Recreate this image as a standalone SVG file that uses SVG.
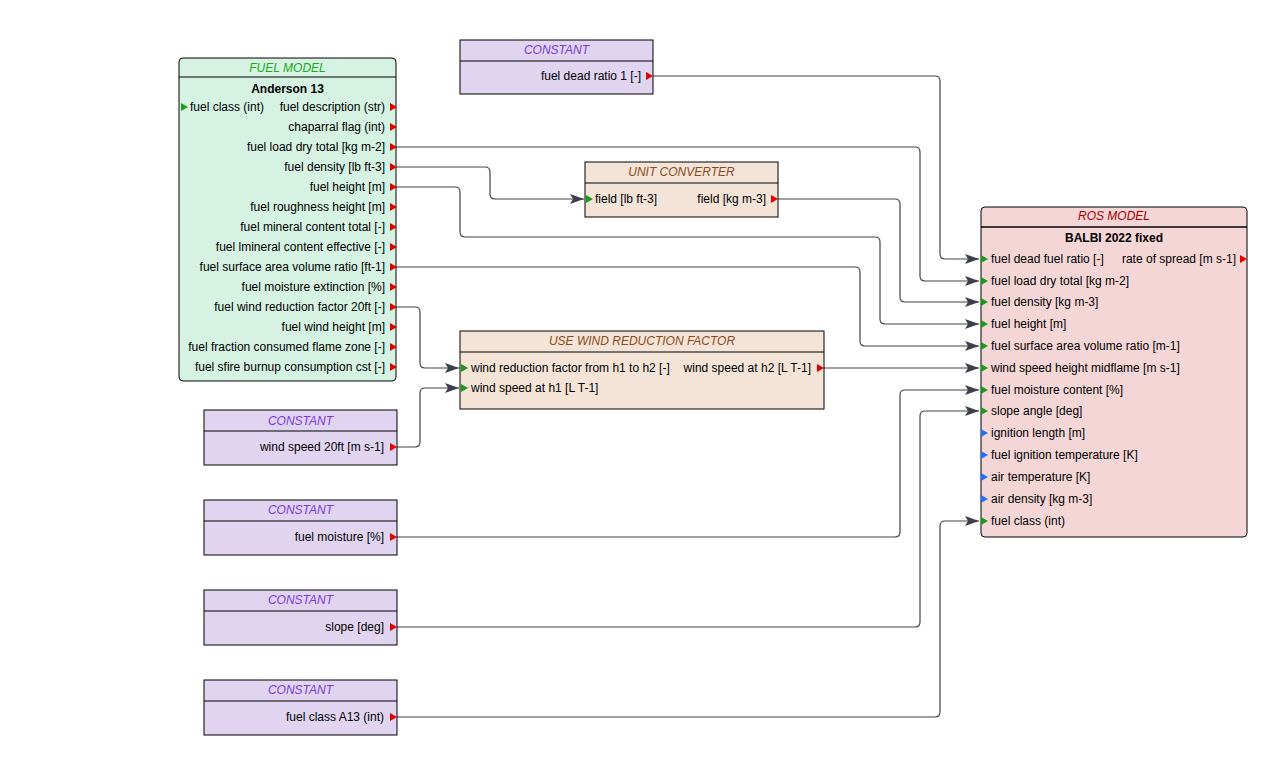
<svg xmlns="http://www.w3.org/2000/svg" width="1288" height="775" viewBox="0 0 1288 775">
<style>
text{font-family:"Liberation Sans",Arial,sans-serif;font-size:12px;fill:#000}
.hd{font-style:italic;text-anchor:middle}
.b{font-weight:bold;text-anchor:middle}
.r{text-anchor:end}
.box{stroke:#000;stroke-width:1}
.cn{fill:#e0d4f0}.fm{fill:#d6f2e2}.uc{fill:#f4e4d8}.ros{fill:#f4d6d6}
.pr{fill:#e00000}.pg{fill:#1a9a1a}.pb{fill:#1e70ff}
#connectors path{fill:none;stroke:#444;stroke-width:1.2;marker-end:url(#ah)}
</style>
<defs>
<marker id="ah" viewBox="0 0 14 10" refX="14" refY="5" markerWidth="14" markerHeight="10" markerUnits="userSpaceOnUse" orient="auto"><path d="M0,0L14,5L0,10L3,5Z" fill="#3a3f4a"/></marker>
<path id="pr" d="M0,-4L7,0L0,4Z" class="pr"/>
<path id="pg" d="M0,-4L7,0L0,4Z" class="pg"/>
<path id="pb" d="M0,-4L7,0L0,4Z" class="pb"/>
</defs>
<rect width="1288" height="775" fill="#fff"/>

<g id="connectors">
<path d="M653,76H935Q940,76 940,81V254Q940,259 945,259H979"/>
<path d="M396,147H915Q920,147 920,152V276Q920,281 925,281H979"/>
<path d="M396,167H485Q490,167 490,172V194Q490,199 495,199H584"/>
<path d="M778,199H895Q900,199 900,204V297Q900,302 905,302H979"/>
<path d="M396,187H455Q460,187 460,192V232Q460,237 465,237H875Q880,237 880,242V319Q880,324 885,324H979"/>
<path d="M396,267H855Q860,267 860,272V341Q860,346 865,346H979"/>
<path d="M396,307H415Q420,307 420,312V363Q420,368 425,368H459"/>
<path d="M396,447H415Q420,447 420,442V393Q420,388 425,388H459"/>
<path d="M824,368H979"/>
<path d="M396,537H895Q900,537 900,532V395Q900,390 905,390H979"/>
<path d="M396,627H915Q920,627 920,622V416Q920,411 925,411H979"/>
<path d="M396,717H935Q940,717 940,712V526Q940,521 945,521H979"/>
</g>

<g id="fuel-model">
<rect x="179" y="58" width="217" height="323" rx="4" class="box fm"/>
<line x1="179" y1="77" x2="396" y2="77" stroke="#000"/>
<text x="287.5" y="72" class="hd" style="fill:#1aaa1a">FUEL MODEL</text>
<text x="287.5" y="93" class="b">Anderson 13</text>
<use href="#pg" x="181" y="107"/>
<text x="190" y="111">fuel class (int)</text>
<text x="385" y="111" class="r">fuel description (str)</text>
<text x="385" y="131" class="r">chaparral flag (int)</text>
<text x="385" y="151" class="r">fuel load dry total [kg m-2]</text>
<text x="385" y="171" class="r">fuel density [lb ft-3]</text>
<text x="385" y="191" class="r">fuel height [m]</text>
<text x="385" y="211" class="r">fuel roughness height [m]</text>
<text x="385" y="231" class="r">fuel mineral content total [-]</text>
<text x="385" y="251" class="r">fuel lmineral content effective [-]</text>
<text x="385" y="271" class="r">fuel surface area volume ratio [ft-1]</text>
<text x="385" y="291" class="r">fuel moisture extinction [%]</text>
<text x="385" y="311" class="r">fuel wind reduction factor 20ft [-]</text>
<text x="385" y="331" class="r">fuel wind height [m]</text>
<text x="385" y="351" class="r">fuel fraction consumed flame zone [-]</text>
<text x="385" y="371" class="r">fuel sfire burnup consumption cst [-]</text>
<use href="#pr" x="390" y="107"/><use href="#pr" x="390" y="127"/><use href="#pr" x="390" y="147"/><use href="#pr" x="390" y="167"/><use href="#pr" x="390" y="187"/><use href="#pr" x="390" y="207"/><use href="#pr" x="390" y="227"/><use href="#pr" x="390" y="247"/><use href="#pr" x="390" y="267"/><use href="#pr" x="390" y="287"/><use href="#pr" x="390" y="307"/><use href="#pr" x="390" y="327"/><use href="#pr" x="390" y="347"/><use href="#pr" x="390" y="367"/>
</g>

<g id="constant-dead-ratio">
<rect x="460" y="40" width="193" height="54" class="box cn"/>
<line x1="460" y1="61" x2="653" y2="61" stroke="#000"/>
<text x="556.5" y="54" class="hd" style="fill:#7a3ad8">CONSTANT</text>
<text x="641" y="80" class="r">fuel dead ratio 1 [-]</text>
<use href="#pr" x="646" y="76"/>
</g>

<g id="unit-converter">
<rect x="585" y="162" width="193" height="55" class="box uc"/>
<line x1="585" y1="183" x2="778" y2="183" stroke="#000"/>
<text x="681.5" y="176" class="hd" style="fill:#8a4a1a">UNIT CONVERTER</text>
<use href="#pg" x="586" y="199"/>
<text x="595" y="203">field [lb ft-3]</text>
<text x="766" y="203" class="r">field [kg m-3]</text>
<use href="#pr" x="771" y="199"/>
</g>

<g id="wind-reduction">
<rect x="460" y="331" width="364" height="78" class="box uc"/>
<line x1="460" y1="352" x2="824" y2="352" stroke="#000"/>
<text x="642" y="345" class="hd" style="fill:#8a4a1a">USE WIND REDUCTION FACTOR</text>
<use href="#pg" x="461" y="368"/><use href="#pg" x="461" y="388"/>
<text x="471" y="372">wind reduction factor from h1 to h2 [-]</text>
<text x="471" y="392">wind speed at h1 [L T-1]</text>
<text x="811" y="372" class="r">wind speed at h2 [L T-1]</text>
<use href="#pr" x="817" y="368"/>
</g>

<g id="ros-model">
<rect x="981" y="207" width="266" height="330" rx="4" class="box ros"/>
<line x1="981" y1="227" x2="1247" y2="227" stroke="#000" stroke-width="1.5"/>
<text x="1114" y="220" class="hd" style="fill:#a00000">ROS MODEL</text>
<text x="1114" y="242" class="b">BALBI 2022 fixed</text>
<text x="1236" y="263" class="r">rate of spread [m s-1]</text>
<use href="#pr" x="1240" y="259"/>
<use href="#pg" x="981" y="259"/><text x="991" y="263">fuel dead fuel ratio [-]</text>
<use href="#pg" x="981" y="281"/><text x="991" y="285">fuel load dry total [kg m-2]</text>
<use href="#pg" x="981" y="302"/><text x="991" y="306">fuel density [kg m-3]</text>
<use href="#pg" x="981" y="324"/><text x="991" y="328">fuel height [m]</text>
<use href="#pg" x="981" y="346"/><text x="991" y="350">fuel surface area volume ratio [m-1]</text>
<use href="#pg" x="981" y="368"/><text x="991" y="372">wind speed height midflame [m s-1]</text>
<use href="#pg" x="981" y="390"/><text x="991" y="394">fuel moisture content [%]</text>
<use href="#pg" x="981" y="411"/><text x="991" y="415">slope angle [deg]</text>
<use href="#pb" x="981" y="433"/><text x="991" y="437">ignition length [m]</text>
<use href="#pb" x="981" y="455"/><text x="991" y="459">fuel ignition temperature [K]</text>
<use href="#pb" x="981" y="477"/><text x="991" y="481">air temperature [K]</text>
<use href="#pb" x="981" y="499"/><text x="991" y="503">air density [kg m-3]</text>
<use href="#pg" x="981" y="521"/><text x="991" y="525">fuel class (int)</text>
</g>

<g id="constant-wind">
<rect x="204" y="410" width="193" height="55" class="box cn"/>
<line x1="204" y1="431" x2="397" y2="431" stroke="#000"/>
<text x="300.5" y="425" class="hd" style="fill:#7a3ad8">CONSTANT</text>
<text x="384" y="451" class="r">wind speed 20ft [m s-1]</text>
<use href="#pr" x="390" y="447"/>
</g>
<g id="constant-moisture">
<rect x="204" y="500" width="193" height="55" class="box cn"/>
<line x1="204" y1="521" x2="397" y2="521" stroke="#000"/>
<text x="300.5" y="514" class="hd" style="fill:#7a3ad8">CONSTANT</text>
<text x="384" y="541" class="r">fuel moisture [%]</text>
<use href="#pr" x="390" y="537"/>
</g>
<g id="constant-slope">
<rect x="204" y="590" width="193" height="55" class="box cn"/>
<line x1="204" y1="611" x2="397" y2="611" stroke="#000"/>
<text x="300.5" y="604" class="hd" style="fill:#7a3ad8">CONSTANT</text>
<text x="384" y="631" class="r">slope [deg]</text>
<use href="#pr" x="390" y="627"/>
</g>
<g id="constant-class">
<rect x="204" y="680" width="193" height="55" class="box cn"/>
<line x1="204" y1="701" x2="397" y2="701" stroke="#000"/>
<text x="300.5" y="694" class="hd" style="fill:#7a3ad8">CONSTANT</text>
<text x="384" y="721" class="r">fuel class A13 (int)</text>
<use href="#pr" x="390" y="717"/>
</g>
</svg>
